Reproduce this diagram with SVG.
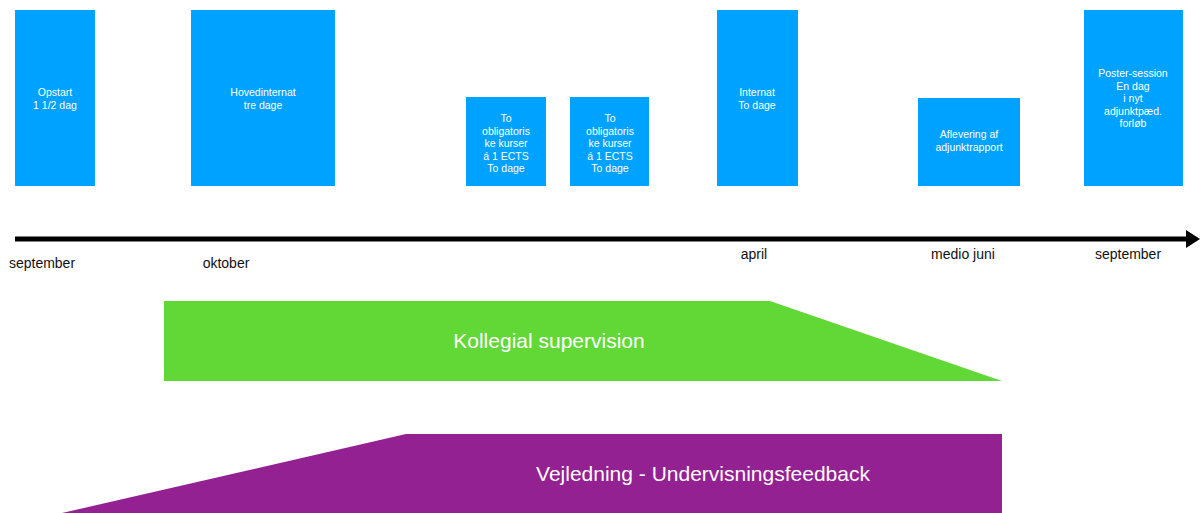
<svg xmlns="http://www.w3.org/2000/svg" width="1200" height="513" viewBox="0 0 1200 513">
<style>
.box{fill:#00A2FF;}
.bt{font-family:"Liberation Sans",Arial,sans-serif;font-size:10.5px;fill:#fff;text-anchor:middle;}
.ml{font-family:"Liberation Sans",Arial,sans-serif;font-size:14px;fill:#111;text-anchor:middle;}
.big{font-family:"Liberation Sans",Arial,sans-serif;font-size:21px;fill:#fff;text-anchor:middle;}
</style>
<rect width="1200" height="513" fill="#fff"/>
<g id="n1"><rect class="box" x="15" y="10" width="80" height="176"/><text class="bt" x="55" y="96">Opstart</text><text class="bt" x="55" y="108.5">1 1/2 dag</text></g>
<g id="n2"><rect class="box" x="191" y="10" width="144" height="176"/><text class="bt" x="263" y="96">Hovedinternat</text><text class="bt" x="263" y="108.5">tre dage</text></g>
<g id="n3"><rect class="box" x="466" y="97" width="80" height="89"/><text class="bt" x="506" y="122">To</text><text class="bt" x="506" y="134.5">obligatoris</text><text class="bt" x="506" y="147">ke kurser</text><text class="bt" x="506" y="159.5">á 1 ECTS</text><text class="bt" x="506" y="172">To dage</text></g>
<g id="n4"><rect class="box" x="570" y="97" width="79" height="89"/><text class="bt" x="610" y="122">To</text><text class="bt" x="610" y="134.5">obligatoris</text><text class="bt" x="610" y="147">ke kurser</text><text class="bt" x="610" y="159.5">á 1 ECTS</text><text class="bt" x="610" y="172">To dage</text></g>
<g id="n5"><rect class="box" x="717" y="10" width="81" height="176"/><text class="bt" x="757" y="96">Internat</text><text class="bt" x="757" y="108.5">To dage</text></g>
<g id="n6"><rect class="box" x="918" y="98" width="102" height="88"/><text class="bt" x="969" y="138">Aflevering af</text><text class="bt" x="969" y="150.5">adjunktrapport</text></g>
<g id="n7"><rect class="box" x="1084" y="10" width="99" height="176"/><text class="bt" x="1133" y="77">Poster-session</text><text class="bt" x="1133" y="89.5">En dag</text><text class="bt" x="1133" y="102">i nyt</text><text class="bt" x="1133" y="114.5">adjunktpæd.</text><text class="bt" x="1133" y="127">forløb</text></g>
<g id="connectors">
<line x1="15" y1="239" x2="1188" y2="239" stroke="#000" stroke-width="5"/>
<polygon points="1186,230 1200,239 1186,248" fill="#000"/>
</g>
<g id="months">
<text class="ml" x="42" y="268">september</text>
<text class="ml" x="226" y="268">oktober</text>
<text class="ml" x="754" y="259">april</text>
<text class="ml" x="963" y="259">medio juni</text>
<text class="ml" x="1128" y="259">september</text>
</g>
<g id="kollegial"><polygon points="164,301 770,301 1002,381 164,381" fill="#61D836"/><text class="big" x="549" y="348">Kollegial supervision</text></g>
<g id="vejledning"><polygon points="406,434 1002,434 1002,513 62,513" fill="#942192"/><text class="big" x="703" y="481">Vejledning - Undervisningsfeedback</text></g>
</svg>
